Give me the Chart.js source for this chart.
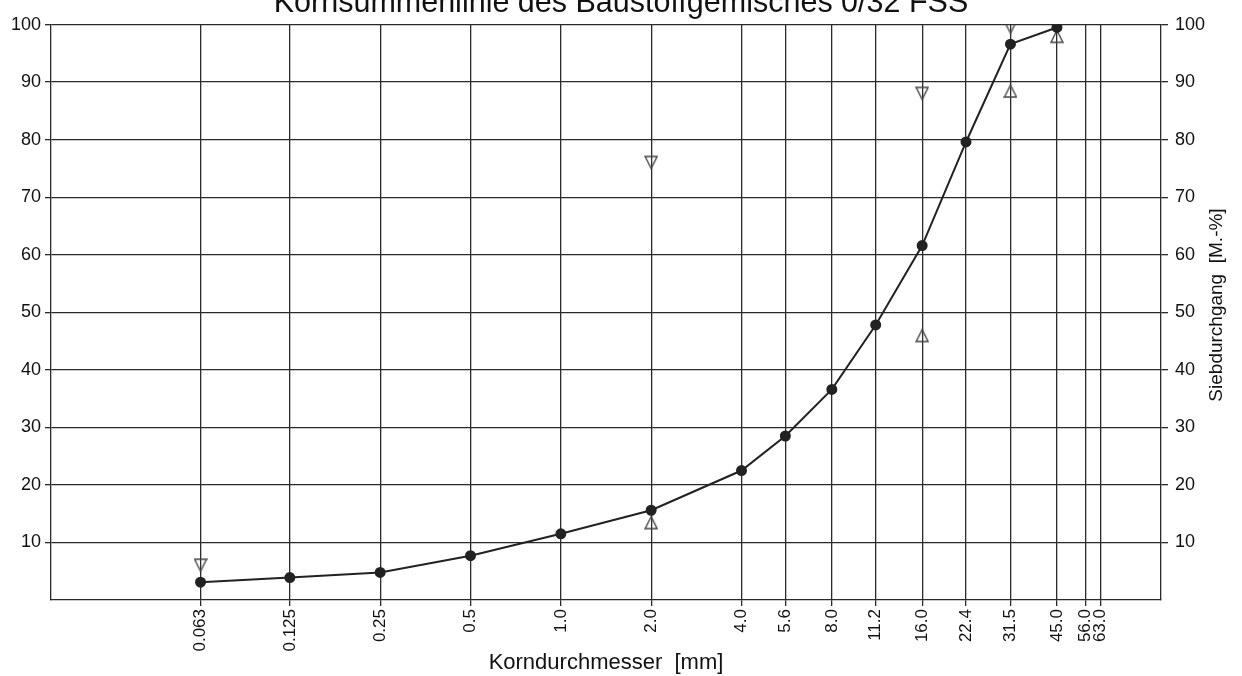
<!DOCTYPE html>
<html>
<head>
<meta charset="utf-8">
<script src="https://cdn.jsdelivr.net/npm/chart.js@4.4.0/dist/chart.umd.min.js"></script>
<style>
  html, body { margin: 0; padding: 0; background: #fff; }
</style>
</head>
<body>
<canvas id="chart" width="1242" height="676"></canvas>
<script>
// sieve sizes on the x axis (mm)
const sieveSizes = [0.063, 0.125, 0.25, 0.5, 1.0, 2.0, 4.0, 5.6, 8.0, 11.2, 16.0, 22.4, 31.5, 45.0, 56.0, 63.0];
const sieveLabels = ['0.063', '0.125', '0.25', '0.5', '1.0', '2.0', '4.0', '5.6', '8.0', '11.2', '16.0', '22.4', '31.5', '45.0', '56.0', '63.0'];

// measured grading curve (passing in M.-%)
const passingSizes = [0.063, 0.125, 0.25, 0.5, 1.0, 2.0, 4.0, 5.6, 8.0, 11.2, 16.0, 22.4, 31.5, 45.0];
const passingValues = [3.1, 3.9, 4.8, 7.7, 11.5, 15.6, 22.5, 28.5, 36.6, 47.8, 61.6, 79.6, 96.6, 99.5];

// grading limits (triangle tip marks the value)
const upperSizes = [0.063, 2.0, 16.0, 31.5];
const upperValues = [5, 75, 87, 98.5];
const lowerSizes = [2.0, 16.0, 31.5, 45.0];
const lowerValues = [14.5, 47, 89.5, 99];

const yTicks = [10, 20, 30, 40, 50, 60, 70, 80, 90, 100];

Chart.defaults.font.family = "'Liberation Sans', Arial, sans-serif";
Chart.defaults.color = '#111';

function toPoints(xs, ys) {
  return xs.map((x, i) => ({ x: x, y: ys[i] }));
}

// hollow triangle whose tip sits on the image centre
function makeTriangle(down) {
  const c = document.createElement('canvas');
  c.width = 14;
  c.height = 28;
  const g = c.getContext('2d');
  g.strokeStyle = '#444';
  g.lineWidth = 1.4;
  g.beginPath();
  if (down) {
    g.moveTo(1, 2); g.lineTo(13, 2); g.lineTo(7, 14);
  } else {
    g.moveTo(7, 14); g.lineTo(13, 26); g.lineTo(1, 26);
  }
  g.closePath();
  g.stroke();
  return c;
}

const rightTitle = {
  id: 'rightTitle',
  afterDraw(chart) {
    const c = chart.ctx;
    c.save();
    c.translate(chart.chartArea.right + 56, 305);
    c.rotate(-Math.PI / 2);
    c.font = "19px 'Liberation Sans', Arial, sans-serif";
    c.fillStyle = '#111';
    c.textAlign = 'center';
    c.textBaseline = 'middle';
    c.fillText('Siebdurchgang  [M.-%]', 0, 0);
    c.restore();
  }
};

const gridColor = '#2a2a2a';

const ctx = document.getElementById('chart').getContext('2d');
const myChart = new Chart(ctx, {
  type: 'scatter',
  data: {
    datasets: [
      {
        label: 'Sieblinie',
        data: toPoints(passingSizes, passingValues),
        showLine: true,
        borderColor: '#222',
        borderWidth: 2,
        pointRadius: 4.5,
        pointBackgroundColor: '#222',
        pointBorderColor: '#222',
        order: 0,
      },
      {
        label: 'Obergrenze',
        data: toPoints(upperSizes, upperValues),
        pointStyle: makeTriangle(true),
        order: 1,
      },
      {
        label: 'Untergrenze',
        data: toPoints(lowerSizes, lowerValues),
        pointStyle: makeTriangle(false),
        order: 1,
      },
    ],
  },
  options: {
    responsive: false,
    animation: false,
    layout: { padding: 0 },
    plugins: {
      legend: { display: false },
      tooltip: { enabled: false },
      title: {
        display: true,
        text: 'Kornsummenlinie des Baustoffgemisches 0/32 FSS',
        font: { size: 30.5, weight: 'normal' },
        color: '#111',
        padding: { top: -14.5, bottom: 2.5 },
      },
    },
    scales: {
      x: {
        type: 'logarithmic',
        min: 0.02,
        max: 100,
        afterBuildTicks: (scale) => {
          scale.ticks = sieveSizes.map((v) => ({ value: v }));
        },
        afterFit: (scale) => { scale.height = 76; },
        ticks: {
          autoSkip: false,
          minRotation: 90,
          maxRotation: 90,
          padding: 3,
          font: { size: 17 },
          callback: function (value) {
            return sieveLabels[sieveSizes.indexOf(value)];
          },
        },
        grid: { color: gridColor, lineWidth: 1.3, tickLength: 6 },
        border: { color: gridColor, width: 1.3 },
        title: {
          display: true,
          text: 'Korndurchmesser  [mm]',
          font: { size: 22 },
          padding: 0,
        },
      },
      y: {
        position: 'left',
        min: 0,
        max: 100,
        afterBuildTicks: (scale) => {
          scale.ticks = yTicks.map((v) => ({ value: v }));
        },
        afterFit: (scale) => { scale.width = 51; },
        ticks: { padding: 4, font: { size: 18 } },
        grid: { color: gridColor, lineWidth: 1.3, tickLength: 6 },
        border: { color: gridColor, width: 1.3 },
      },
      y2: {
        position: 'right',
        min: 0,
        max: 100,
        afterBuildTicks: (scale) => {
          scale.ticks = yTicks.map((v) => ({ value: v }));
        },
        afterFit: (scale) => { scale.width = 81; },
        ticks: { padding: 7, font: { size: 18 } },
        grid: { drawOnChartArea: false, color: gridColor, lineWidth: 1.3, tickLength: 7 },
        border: { color: gridColor, width: 1.3 },
      },
    },
  },
  plugins: [rightTitle],
});
</script>
</body>
</html>
